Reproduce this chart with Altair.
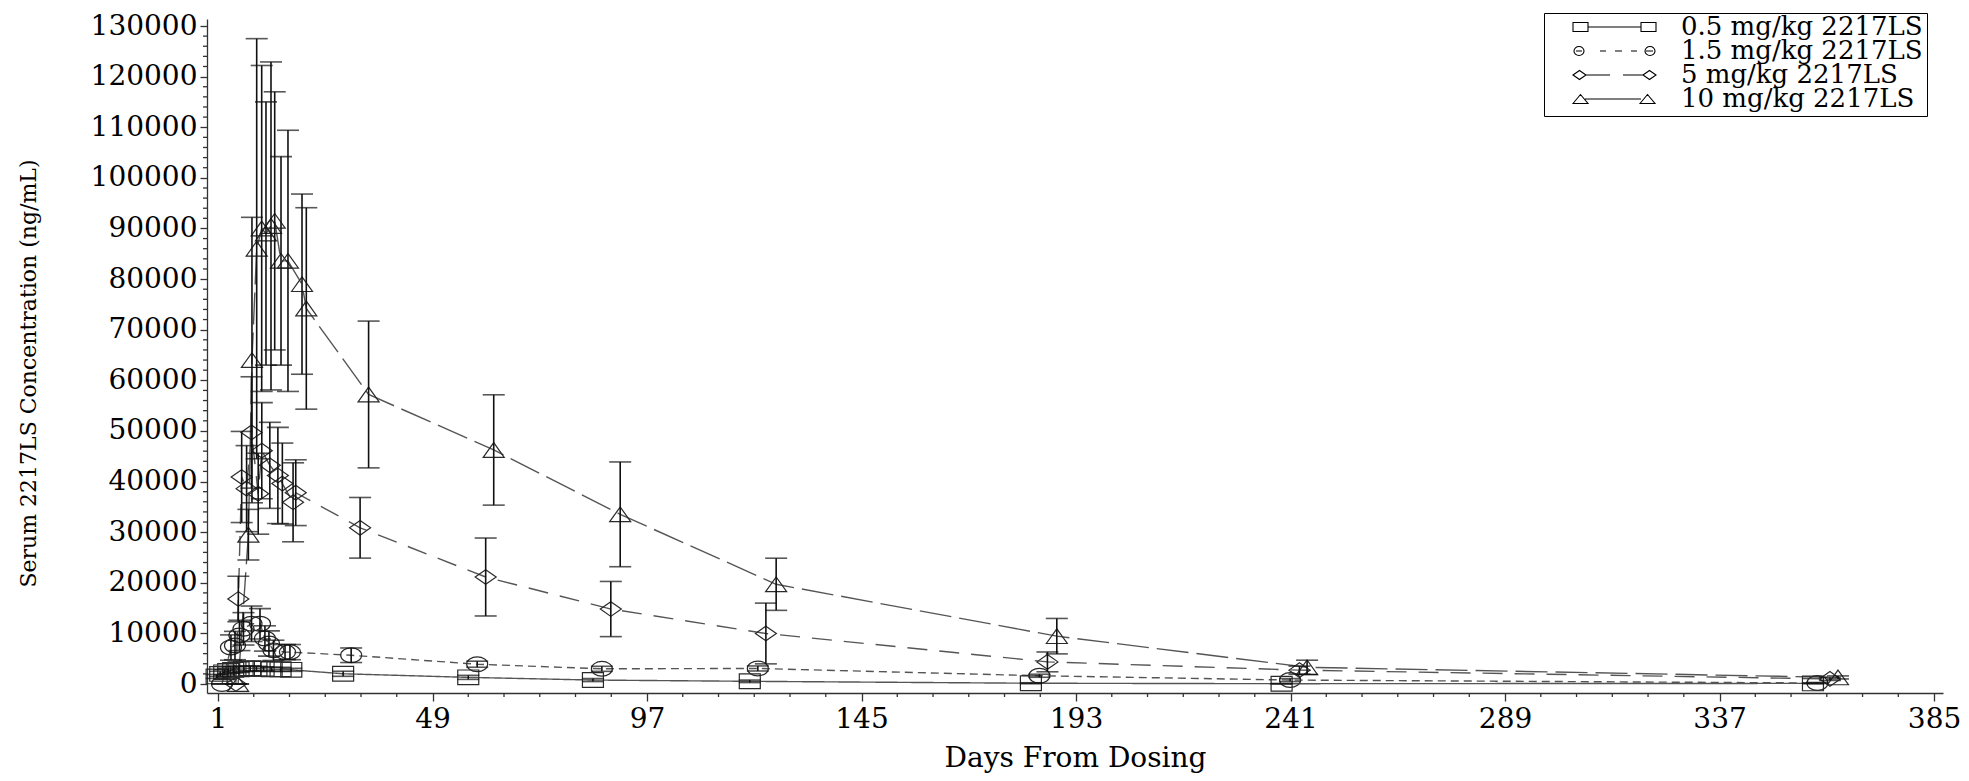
import altair as alt
import pandas as pd

groups = ["0.5 mg/kg 2217LS", "1.5 mg/kg 2217LS", "5 mg/kg 2217LS", "10 mg/kg 2217LS"]

# 0.5 mg/kg (squares)
days_05 = [0.7, 1.5, 2.4, 3.3, 4.4, 5.6, 6.8, 8.2, 9.6, 11.2, 13.0, 15.0, 17.4, 29.0, 57.0, 84.9, 120.0, 182.9, 239.0, 357.9]
mean_05 = [1500, 2000, 2300, 2600, 2800, 2900, 3000, 3100, 3000, 3000, 2900, 2900, 2800, 2020, 1310, 780, 530, 150, 60, 120]
sd_05 = [400, 500, 500, 500, 600, 600, 500, 500, 500, 400, 400, 400, 300, 500, 400, 300, 250, 100, 50, 80]

# 1.5 mg/kg (circles)
days_15 = [1.9, 3.9, 4.8, 5.8, 6.7, 8.5, 10.4, 11.5, 12.4, 13.4, 16.0, 17.1, 30.8, 59.0, 86.9, 121.8, 184.8, 240.9, 358.9]
mean_15 = [0, 7200, 7600, 9600, 10900, 11900, 11900, 9000, 8000, 6650, 6300, 6300, 5680, 3910, 3000, 3070, 1630, 780, 200]
sd_15 = [0, 2500, 2800, 3000, 3200, 3500, 3000, 2500, 2500, 2000, 1500, 1500, 1440, 600, 500, 500, 300, 300, 100]

# 5 mg/kg (diamonds)
days_5 = [5.0, 5.55, 6.3, 7.4, 8.5, 10.0, 10.8, 12.6, 14.4, 15.4, 17.8, 18.4, 32.8, 60.9, 88.9, 123.6, 186.6, 243.0, 361.7]
mean_5 = [0, 16800, 40900, 38600, 49700, 37600, 46100, 43200, 41200, 39600, 35900, 37800, 30860, 21140, 14810, 9980, 4370, 2740, 1000]
sd_5 = [0, 4500, 9000, 8500, 11000, 8000, 9500, 8500, 9500, 8000, 7800, 6500, 5990, 7700, 5450, 6000, 1960, 800, 300]

# 10 mg/kg (triangles)
days_10 = [5.5, 7.8, 8.6, 9.66, 10.78, 11.74, 12.86, 13.69, 15.1, 16.66, 19.8, 20.76, 34.7, 62.7, 91.0, 125.9, 188.7, 244.7, 363.5]
mean_10 = [0, 29500, 64000, 86000, 90000, 89000, 90500, 91500, 83600, 83600, 79000, 74200, 57200, 46240, 33520, 19700, 9450, 3300, 1300]
sd_10 = [0, 5000, 28200, 41500, 32200, 26000, 32400, 25500, 20600, 25800, 17800, 19900, 14500, 10900, 10350, 5150, 3500, 1400, 300]

x_major_ticks = list(range(1, 386, 48))
x_minor_ticks = [t for t in range(1, 386, 8) if (t - 1) % 48 != 0]
y_major_ticks = list(range(0, 130001, 10000))
y_minor_ticks = [t for t in range(0, 130001, 2000) if t % 10000 != 0]

rows = []
for g, ds, ms, ss in zip(groups, [days_05, days_15, days_5, days_10],
                         [mean_05, mean_15, mean_5, mean_10], [sd_05, sd_15, sd_5, sd_10]):
    for d, m, s in zip(ds, ms, ss):
        rows.append({"group": g, "day": d, "conc": m, "lo": m - s, "hi": m + s})
df = pd.DataFrame(rows)
xminor_df = pd.DataFrame({"day": x_minor_ticks})
yminor_df = pd.DataFrame({"conc": y_minor_ticks})

FONT = "DejaVu Serif"
W, H = 1736, 674
X_DOMAIN = [-1.46, 387.0]
Y_DOMAIN = [-1778, 131383]

# stretched marker outlines (wider than tall)
marker_paths = [
    "M-1,-0.7L1,-0.7L1,0.7L-1,0.7Z",
    "M-1,0A1,0.7 0 1 1 1,0A1,0.7 0 1 1 -1,0Z",
    "M-1,0L0,-0.7L1,0L0,0.7Z",
    "M-1,0.7L0,-0.7L1,0.7Z",
]
dashes = [[1, 0], [8, 5], [20, 12], [32, 8]]

# legend samples: marker - line - marker, drawn in px (0..83) then to units
S = 83.0
half = S / 2


def u(px):
    return round((px - half) / half, 4)


def v(py):
    return round(py / half, 4)


def seg(a, b):
    return f"M{u(a)},0L{u(b)},0"


def box(a, b, h):
    return f"M{u(a)},{v(-h)}L{u(b)},{v(-h)}L{u(b)},{v(h)}L{u(a)},{v(h)}Z"


def ell(cx, rx, ry):
    return (f"M{u(cx - rx)},0A{round(rx / half, 4)},{round(ry / half, 4)} 0 1 1 {u(cx + rx)},0"
            f"A{round(rx / half, 4)},{round(ry / half, 4)} 0 1 1 {u(cx - rx)},0Z")


def dia(cx, rx, ry):
    return f"M{u(cx - rx)},0L{u(cx)},{v(-ry)}L{u(cx + rx)},0L{u(cx)},{v(ry)}Z"


def tri(cx, rx, ry):
    return f"M{u(cx - rx)},{v(ry)}L{u(cx)},{v(-ry)}L{u(cx + rx)},{v(ry)}Z"


legend_paths = [
    box(0, 15, 4.5) + box(68, 83, 4.5) + seg(15, 68),
    ell(6, 5, 4.5) + ell(77, 5, 4.5) + seg(3, 9) + seg(27, 33) + seg(42, 49) + seg(58, 64) + seg(73, 80),
    dia(6.5, 6.5, 4.5) + dia(76.5, 6.5, 4.5) + seg(13, 37) + seg(50, 70),
    tri(7.5, 7.5, 4.5) + tri(74.5, 7.5, 4.5) + seg(12, 68),
]

x_scale = alt.Scale(domain=X_DOMAIN, nice=False, zero=False)
y_scale = alt.Scale(domain=Y_DOMAIN, nice=False, zero=False)

x_enc = alt.X(
    "day:Q",
    scale=x_scale,
    axis=alt.Axis(
        values=x_major_ticks,
        title="Days From Dosing",
        tickSize=8,
        format="d",
        grid=False,
        labelOverlap=False,
        labelPadding=4,
        titleY=73,
        titleBaseline="alphabetic",
    ),
)
y_enc = alt.Y(
    "conc:Q",
    scale=y_scale,
    axis=alt.Axis(
        values=y_major_ticks,
        title="Serum 2217LS Concentration (ng/mL)",
        tickSize=7,
        format="d",
        grid=False,
        labelOverlap=False,
        labelPadding=3,
        titleX=-172,
        titleY=354,
        titleBaseline="alphabetic",
        titleFontSize=22,
    ),
)

base = alt.Chart(df)

lines = base.mark_line(strokeWidth=1.4, color="#555555").encode(
    x=x_enc, y=y_enc,
    strokeDash=alt.StrokeDash("group:N", scale=alt.Scale(domain=groups, range=dashes), legend=None),
    detail="group:N",
    order="day:Q",
)

points = base.mark_point(filled=False, size=441, strokeWidth=1.2, color="#2a2a2a", opacity=1).encode(
    x=x_enc, y=y_enc,
    shape=alt.Shape("group:N", scale=alt.Scale(domain=groups, range=marker_paths), legend=None),
)

err = base.mark_rule(color="#111111", strokeWidth=1.6).encode(x=x_enc, y="lo:Q", y2="hi:Q")
cap_hi = base.mark_tick(color="#111111", thickness=1.6, size=22, orient="horizontal").encode(x=x_enc, y="hi:Q")
cap_lo = base.mark_tick(color="#111111", thickness=1.6, size=22, orient="horizontal").encode(x=x_enc, y="lo:Q")

# minor axis ticks (through the shared scales)
x_minor = alt.Chart(xminor_df).mark_rule(color="#333333", strokeWidth=1.3).encode(
    x=x_enc,
    y=alt.value(H),
    y2=alt.value(H + 4),
)
y_minor = alt.Chart(yminor_df).mark_rule(color="#333333", strokeWidth=1.3).encode(
    y=y_enc,
    x=alt.value(0),
    x2=alt.value(-4),
)

legend_layer = base.transform_filter("false").mark_point(filled=False, strokeWidth=1.1, color="black").encode(
    x=x_enc, y=y_enc,
    shape=alt.Shape(
        "group:N",
        scale=alt.Scale(domain=groups, range=legend_paths),
        legend=alt.Legend(
            title=None,
            orient="none",
            legendX=1337,
            legendY=-6,
            strokeColor="black",
            fillColor="white",
            padding=3.5,
            rowPadding=-12,
            clipHeight=21,
            labelFont=FONT,
            labelFontSize=26,
            labelColor="black",
            symbolOffset=24.5,
            labelOffset=24,
            labelLimit=0,
            symbolSize=S * S,
            symbolStrokeWidth=1.1,
            symbolStrokeColor="black",
            symbolFillColor="transparent",
            symbolOpacity=1,
        ),
    ),
)

chart = (
    alt.layer(lines, points, err, cap_hi, cap_lo, x_minor, y_minor, legend_layer)
    .resolve_scale(shape="independent")
    .properties(
        width=W,
        height=H,
        autosize=alt.AutoSizeParams(type="none"),
        padding={"left": 199, "top": 11, "right": 18, "bottom": 80},
    )
    .configure_view(stroke=None)
    .configure_axis(
        labelFont=FONT,
        titleFont=FONT,
        labelFontSize=28,
        titleFontSize=28,
        labelColor="black",
        titleColor="black",
        titleFontWeight="normal",
        domainColor="#333333",
        tickColor="#333333",
        domainWidth=1.3,
        tickWidth=1.3,
    )
)

chart.save("out.html", embed_options={"renderer": "svg", "actions": False})
